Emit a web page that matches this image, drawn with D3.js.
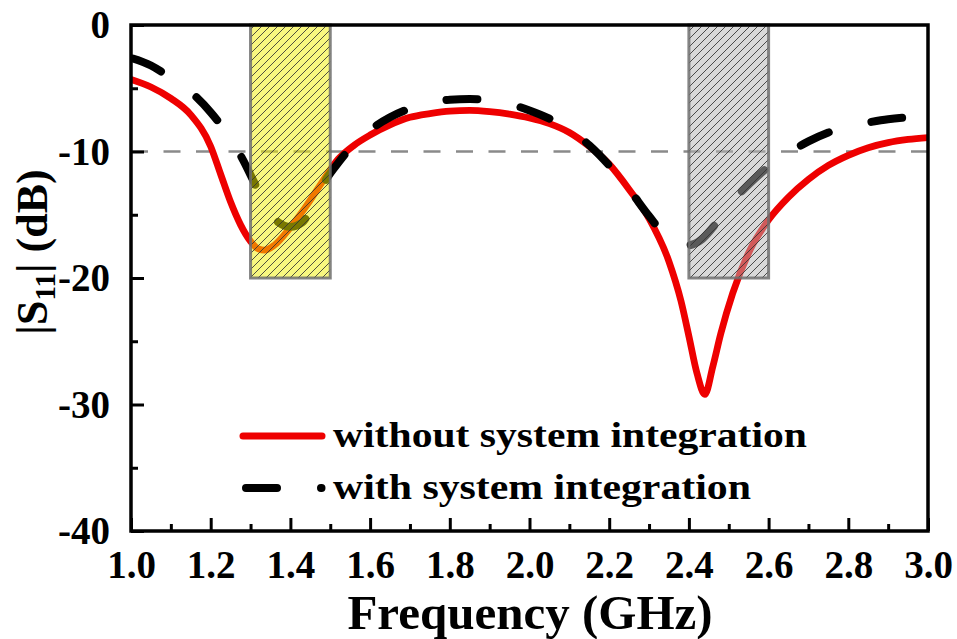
<!DOCTYPE html>
<html>
<head>
<meta charset="utf-8">
<script src="https://cdn.jsdelivr.net/npm/d3@7/dist/d3.min.js"></script>
<style>
  html, body { margin: 0; padding: 0; background: #fff; }
  svg { display: block; }
  text { font-family: "Liberation Serif", "Times New Roman", serif; font-weight: bold; fill: #000; }
</style>
</head>
<body>
<svg id="chart" width="957" height="639"></svg>
<script>
// Reflection coefficient |S11| versus frequency, two configurations
const freqWithout = [1.00, 1.05, 1.10, 1.15, 1.20, 1.225, 1.25, 1.275, 1.30, 1.32, 1.335, 1.36,
  1.40, 1.44, 1.48, 1.52, 1.56, 1.60, 1.65, 1.70, 1.75, 1.80, 1.85, 1.90, 1.95, 2.00,
  2.05, 2.10, 2.15, 2.20, 2.25, 2.30, 2.35, 2.38, 2.40, 2.42, 2.44, 2.46, 2.48, 2.51,
  2.55, 2.60, 2.65, 2.70, 2.75, 2.80, 2.85, 2.90, 2.95, 3.00];
const s11Without = [-4.3, -4.9, -5.8, -7.1, -9.6, -11.8, -14.0, -15.8, -17.1, -17.7, -17.8, -17.4,
  -16.0, -14.3, -12.4, -10.6, -9.5, -8.7, -7.9, -7.3, -7.0, -6.8, -6.75, -6.85, -7.05, -7.35,
  -7.8, -8.5, -9.6, -11.0, -13.0, -15.3, -18.7, -21.8, -24.6, -27.5, -29.2, -27.0, -24.4, -21.2,
  -18.0, -15.4, -13.6, -12.2, -11.1, -10.3, -9.7, -9.3, -9.05, -8.9];

const freqWith = [1.00, 1.05, 1.10, 1.15, 1.20, 1.25, 1.28, 1.31, 1.34, 1.37, 1.40, 1.43,
  1.46, 1.49, 1.52, 1.56, 1.60, 1.65, 1.70, 1.75, 1.80, 1.85, 1.90, 1.95, 2.00, 2.05,
  2.10, 2.15, 2.20, 2.25, 2.30, 2.34, 2.37, 2.40, 2.43, 2.46, 2.50, 2.55, 2.60, 2.65,
  2.70, 2.75, 2.80, 2.85, 2.90, 2.95, 3.00];
const s11With = [-2.6, -3.2, -4.2, -5.3, -6.9, -9.0, -10.6, -12.5, -14.4, -15.6, -15.95, -15.6,
  -14.0, -12.2, -10.9, -9.4, -8.3, -7.3, -6.6, -6.15, -5.9, -5.85, -5.95, -6.25, -6.75, -7.4,
  -8.3, -9.5, -11.1, -13.0, -15.1, -16.6, -17.2, -17.4, -17.0, -16.0, -14.3, -12.6, -11.2, -10.1,
  -9.2, -8.5, -8.0, -7.7, -7.45, -7.3, -7.2];

const seriesNames = ["without system integration", "with system integration"];
const bandStart = [1.3, 2.4];
const bandEnd = [1.5, 2.6];
const bandFloor = -20;
const refLevel = -10;

const xTicks = [1.0, 1.2, 1.4, 1.6, 1.8, 2.0, 2.2, 2.4, 2.6, 2.8, 3.0];
const xMinorTicks = [1.1, 1.3, 1.5, 1.7, 1.9, 2.1, 2.3, 2.5, 2.7, 2.9];
const yTicks = [0, -10, -20, -30, -40];
const yMinorTicks = [-5, -15, -25, -35];

const svg = d3.select("#chart");
const plotL = 131, plotR = 928, plotT = 25, plotB = 531;

const x = d3.scaleLinear().domain([1.0, 3.0]).range([plotL, plotR]);
const y = d3.scaleLinear().domain([-40, 0]).range([plotB, plotT]);

// hatch pattern for the two bands, and a clip for the plot area
const defs = svg.append("defs");
defs.append("clipPath").attr("id", "plotClip")
  .append("rect").attr("x", plotL).attr("y", plotT).attr("width", plotR - plotL).attr("height", plotB - plotT);
const hatch = defs.append("pattern").attr("id", "hatch")
  .attr("patternUnits", "userSpaceOnUse").attr("width", 8).attr("height", 8);
hatch.append("path").attr("d", "M-2,2 L2,-2 M0,8 L8,0 M6,10 L10,6")
  .attr("stroke", "#333").attr("stroke-width", 1).attr("stroke-opacity", 0.85);

const plot = svg.append("g").attr("clip-path", "url(#plotClip)");

// -10 dB reference
plot.append("line")
  .attr("x1", x(1.0)).attr("x2", x(3.0))
  .attr("y1", y(refLevel)).attr("y2", y(refLevel))
  .attr("stroke", "#8a8a8a").attr("stroke-width", 2.5)
  .attr("stroke-dasharray", "17,15.5");

const line = d3.line().x(d => x(d[0])).y(d => y(d[1])).curve(d3.curveMonotoneX);

plot.append("path")
  .datum(freqWithout.map((f, i) => [f, s11Without[i]]))
  .attr("d", line)
  .attr("fill", "none").attr("stroke", "#ee0000").attr("stroke-width", 6.8)
  .attr("stroke-linejoin", "round").attr("stroke-linecap", "round");

plot.append("path")
  .datum(freqWith.map((f, i) => [f, s11With[i]]))
  .attr("d", line)
  .attr("fill", "none").attr("stroke", "#000").attr("stroke-width", 8)
  .attr("stroke-linecap", "round").attr("stroke-dasharray", "31,44")
  .attr("stroke-dashoffset", -2);

// highlighted bands
const bandFill = ["#f2f000", "#b4b4b4"];
bandStart.forEach((b, i) => {
  const g = svg.append("g");
  g.append("rect")
    .attr("x", x(b)).attr("y", y(0))
    .attr("width", x(bandEnd[i]) - x(b)).attr("height", y(bandFloor) - y(0))
    .attr("fill", bandFill[i]).attr("fill-opacity", 0.5);
  g.append("rect")
    .attr("x", x(b)).attr("y", y(0))
    .attr("width", x(bandEnd[i]) - x(b)).attr("height", y(bandFloor) - y(0))
    .attr("fill", "url(#hatch)")
    .attr("stroke", "#6e6e6e").attr("stroke-opacity", 0.85).attr("stroke-width", 3);
});

// axes
const fmtY = d => String(d);
const yAxis = svg.append("g").attr("transform", `translate(${plotL},0)`)
  .call(d3.axisLeft(y).tickValues(yTicks).tickSize(-13).tickSizeOuter(0).tickPadding(21).tickFormat(fmtY));
const yMinor = svg.append("g").attr("transform", `translate(${plotL},0)`)
  .call(d3.axisLeft(y).tickValues(yMinorTicks).tickSize(-7).tickSizeOuter(0).tickFormat(""));
const xAxis = svg.append("g").attr("transform", `translate(0,${plotB})`)
  .call(d3.axisBottom(x).tickValues(xTicks).tickSize(-13).tickSizeOuter(0).tickPadding(19).tickFormat(d3.format(".1f")));
const xMinor = svg.append("g").attr("transform", `translate(0,${plotB})`)
  .call(d3.axisBottom(x).tickValues(xMinorTicks).tickSize(-7).tickSizeOuter(0).tickFormat(""));

[yAxis, yMinor, xAxis, xMinor].forEach(a => {
  a.select(".domain").remove();
  a.selectAll(".tick line").attr("stroke", "#000").attr("stroke-width", 3);
  a.selectAll("text").attr("font-size", 39).attr("fill", "#000")
    .attr("font-family", "'Liberation Serif', 'Times New Roman', serif").attr("font-weight", "bold");
});
yAxis.selectAll("text").attr("dy", "0.33em");

// frame
svg.append("rect")
  .attr("x", plotL).attr("y", plotT).attr("width", plotR - plotL).attr("height", plotB - plotT)
  .attr("fill", "none").attr("stroke", "#000").attr("stroke-width", 3.5);

// axis titles
svg.append("text")
  .attr("x", 530).attr("y", 629)
  .attr("text-anchor", "middle").attr("font-size", 49)
  .text("Frequency (GHz)");

const yTitle = svg.append("text")
  .attr("transform", "translate(47,252) rotate(-90)")
  .attr("text-anchor", "middle").attr("font-size", 44);
yTitle.append("tspan").text("|S");
yTitle.append("tspan").attr("font-size", 29).attr("dy", 8).text("11");
yTitle.append("tspan").attr("dy", -8).text("| (dB)");

// legend
const legend = svg.append("g");
legend.append("line")
  .attr("x1", 243).attr("x2", 322).attr("y1", 436).attr("y2", 436)
  .attr("stroke", "#ee0000").attr("stroke-width", 7).attr("stroke-linecap", "round");
legend.append("line")
  .attr("x1", 246).attr("x2", 321.5).attr("y1", 488).attr("y2", 488)
  .attr("stroke", "#000").attr("stroke-width", 8).attr("stroke-linecap", "round")
  .attr("stroke-dasharray", "31,44");
legend.append("text").attr("x", 333).attr("y", 447).attr("font-size", 35)
  .attr("textLength", 474).attr("lengthAdjust", "spacingAndGlyphs").text(seriesNames[0]);
legend.append("text").attr("x", 333).attr("y", 499).attr("font-size", 35)
  .attr("textLength", 418).attr("lengthAdjust", "spacingAndGlyphs").text(seriesNames[1]);
</script>
</body>
</html>
